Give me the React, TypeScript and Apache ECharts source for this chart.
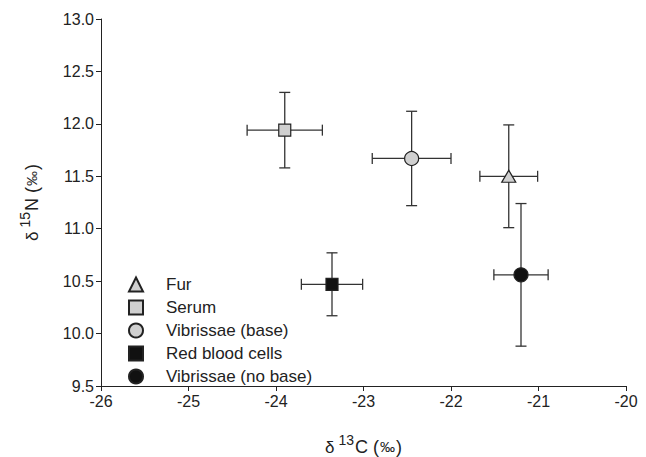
import React, { useEffect, useRef } from 'react';
import * as echarts from 'echarts';

const groups = ['Fur', 'Serum', 'Vibrissae (base)', 'Red blood cells', 'Vibrissae (no base)'];
const d13C = [-21.34, -23.9, -22.45, -23.36, -21.2];
const d13CErr = [0.33, 0.43, 0.45, 0.35, 0.31];
const d15N = [11.5, 11.94, 11.67, 10.47, 10.56];
const d15NErr = [0.49, 0.36, 0.45, 0.3, 0.68];
const symbols = ['triangle', 'rect', 'circle', 'rect', 'circle'];
const symbolSizes: any[] = [[14, 12], 12, 14, 12, 14];
const fills = ['#d0d0d0', '#d0d0d0', '#d0d0d0', '#111111', '#111111'];

const FONT = '"Liberation Sans", Arial, sans-serif';

const titleRich = {
  d: { fontSize: 17, color: '#222', fontFamily: FONT, verticalAlign: 'bottom', lineHeight: 18 },
  s: { fontSize: 14, color: '#222', fontFamily: FONT, verticalAlign: 'bottom', lineHeight: 14, padding: [0, 1, 9, 4] },
  n: { fontSize: 18, color: '#222', fontFamily: FONT, verticalAlign: 'bottom', lineHeight: 18 },
  p: { fontSize: 15, color: '#222', fontFamily: FONT, verticalAlign: 'bottom', lineHeight: 15, padding: [0, 1, 2, 1] },
};

export default function App() {
  const ref = useRef<HTMLDivElement>(null);
  useEffect(() => {
    if (!ref.current) return;
    const chart = echarts.init(ref.current, null, { renderer: 'svg' });

    const errData = groups.map((_, i) => [d13C[i], d15N[i], d13CErr[i], d15NErr[i]]);

    const scatterSeries = groups.map((g, i) => ({
      name: g,
      type: 'scatter',
      symbol: symbols[i],
      symbolSize: symbolSizes[i],
      z: 5,
      itemStyle: { color: fills[i], borderColor: '#222', borderWidth: 1.2, opacity: 1 },
      data: [[d13C[i], d15N[i]]],
    }));

    const option: any = {
      animation: false,
      textStyle: { fontFamily: FONT },
      grid: { left: 101, right: 20, top: 19, bottom: 71, containLabel: false, outerBoundsMode: 'none' },
      legend: {
        orient: 'vertical',
        left: 128,
        top: 276,
        padding: 0,
        itemWidth: 14,
        itemHeight: 14,
        itemGap: 6,
        data: groups,
        formatter: '{a|{name}}',
        textStyle: {
          fontSize: 17,
          color: '#222',
          fontFamily: FONT,
          rich: { a: { fontSize: 17, color: '#222', fontFamily: FONT, lineHeight: 16, padding: [0, 0, 0, 18] } },
        },
      },
      xAxis: {
        type: 'value',
        min: -26,
        max: -20,
        interval: 1,
        splitLine: { show: false },
        axisLine: { lineStyle: { color: '#222', width: 1 } },
        axisTick: { length: 5, lineStyle: { color: '#222' } },
        axisLabel: { fontSize: 16, color: '#222', margin: 7, fontFamily: FONT },
        name: '{d|δ}{s|13}{n|C (}{p|‰}{n|)}',
        nameLocation: 'middle',
        nameGap: 52,
        nameTextStyle: { rich: titleRich },
      },
      yAxis: {
        type: 'value',
        min: 9.5,
        max: 13,
        interval: 0.5,
        splitLine: { show: false },
        axisLine: { show: true, lineStyle: { color: '#222', width: 1 } },
        axisTick: { show: true, length: 5, lineStyle: { color: '#222' } },
        axisLabel: { fontSize: 16, color: '#222', margin: 7, fontFamily: FONT, formatter: (v: number) => v.toFixed(1) },
        name: '{d|δ}{s|15}{n|N (}{p|‰}{n|)}',
        nameLocation: 'middle',
        nameRotate: 90,
        nameGap: 60,
        nameTextStyle: { rich: titleRich },
      },
      series: [
        {
          type: 'custom',
          name: 'errors',
          z: 2,
          silent: true,
          encode: { x: 0, y: 1 },
          data: errData,
          renderItem: (params: any, api: any) => {
            const x = api.value(0);
            const y = api.value(1);
            const xe = api.value(2);
            const ye = api.value(3);
            const l = api.coord([x - xe, y]);
            const r = api.coord([x + xe, y]);
            const t = api.coord([x, y + ye]);
            const b = api.coord([x, y - ye]);
            const cap = 5.5;
            const st = { stroke: '#333', lineWidth: 1.3 };
            const ln = (x1: number, y1: number, x2: number, y2: number) => ({
              type: 'line',
              shape: { x1, y1, x2, y2 },
              style: st,
            });
            return {
              type: 'group',
              children: [
                ln(l[0], l[1], r[0], r[1]),
                ln(l[0], l[1] - cap, l[0], l[1] + cap),
                ln(r[0], r[1] - cap, r[0], r[1] + cap),
                ln(t[0], t[1], b[0], b[1]),
                ln(t[0] - cap, t[1], t[0] + cap, t[1]),
                ln(b[0] - cap, b[1], b[0] + cap, b[1]),
              ],
            };
          },
        },
        ...scatterSeries,
      ],
    };
    chart.setOption(option);
    return () => chart.dispose();
  }, []);
  return (
    <div
      ref={ref}
      style={{ position: 'fixed', left: 0, top: 0, width: 646, height: 457, background: '#fff' }}
    />
  );
}
